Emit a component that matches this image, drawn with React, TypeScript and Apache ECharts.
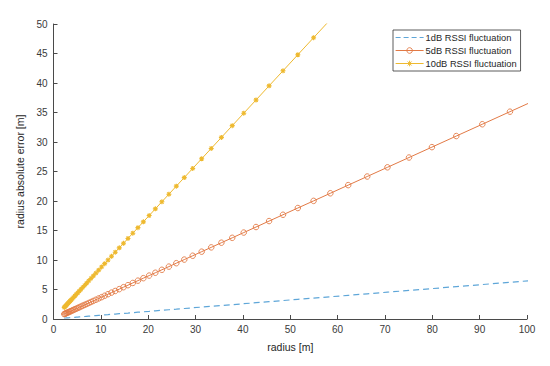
import React, { useEffect, useRef } from "react";
import * as echarts from "echarts";

const radius = [
  2.27, 2.41, 2.57, 2.73, 2.91, 3.1, 3.3, 3.51, 3.74, 3.98, 4.23, 4.51, 4.8, 5.11, 5.44, 5.79,
  6.16, 6.56, 6.98, 7.43, 7.91, 8.42, 8.96, 9.54, 10.16, 10.81, 11.51, 12.25, 13.04, 13.89,
  14.78, 15.73, 16.75, 17.83, 18.98, 20.2, 21.51, 22.89, 24.37, 25.94, 27.62, 29.4, 31.29,
  33.31, 35.46, 37.75, 40.18, 42.77, 45.53, 48.47, 51.6, 54.93, 58.47, 62.24, 66.25, 70.53,
  75.08, 79.92, 85.07, 90.56, 96.4, 102.62,
];

const err1dB = [
  0.15, 0.16, 0.17, 0.18, 0.19, 0.2, 0.21, 0.23, 0.24, 0.26, 0.27, 0.29, 0.31, 0.33, 0.35, 0.37,
  0.4, 0.42, 0.45, 0.48, 0.51, 0.54, 0.58, 0.62, 0.66, 0.7, 0.74, 0.79, 0.84, 0.9, 0.95, 1.01,
  1.08, 1.15, 1.22, 1.3, 1.39, 1.48, 1.57, 1.67, 1.78, 1.9, 2.02, 2.15, 2.29, 2.43, 2.59, 2.76,
  2.94, 3.13, 3.33, 3.54, 3.77, 4.01, 4.27, 4.55, 4.84, 5.15, 5.49, 5.84, 6.22, 6.62,
];

const err5dB = [
  0.83, 0.88, 0.94, 1.0, 1.06, 1.13, 1.2, 1.28, 1.36, 1.45, 1.54, 1.64, 1.75, 1.86, 1.98, 2.11,
  2.25, 2.39, 2.54, 2.71, 2.88, 3.07, 3.27, 3.48, 3.7, 3.94, 4.2, 4.47, 4.75, 5.06, 5.39, 5.73,
  6.11, 6.5, 6.92, 7.36, 7.84, 8.34, 8.88, 9.46, 10.07, 10.72, 11.41, 12.14, 12.93, 13.76,
  14.65, 15.59, 16.6, 17.67, 18.81, 20.02, 21.31, 22.69, 24.15, 25.71, 27.37, 29.13, 31.01,
  33.01, 35.14, 37.4,
];

const err10dB = [
  1.97, 2.09, 2.23, 2.37, 2.53, 2.69, 2.86, 3.05, 3.25, 3.45, 3.67, 3.91, 4.17, 4.44, 4.72,
  5.03, 5.35, 5.69, 6.06, 6.45, 6.87, 7.31, 7.78, 8.28, 8.82, 9.38, 9.99, 10.63, 11.32, 12.06,
  12.83, 13.65, 14.54, 15.48, 16.47, 17.53, 18.67, 19.87, 21.15, 22.52, 23.97, 25.52, 27.16,
  28.91, 30.78, 32.77, 34.88, 37.12, 39.52, 42.07, 44.79, 47.68, 50.75, 54.02,
];

const seriesNames = ["1dB RSSI fluctuation", "5dB RSSI fluctuation", "10dB RSSI fluctuation"];
const xTicks = { min: 0, max: 100, interval: 10 };
const yTicks = { min: 0, max: 50, interval: 5 };

const BLUE = "#5ea6d8";
const ORANGE = "#e27a46";
const YELLOW = "#eeb92f";
const FONT = "Liberation Sans, Arial, sans-serif";
const ASTERISK = "path://M5 0L5 10M0 5L10 5M1.5 1.5L8.5 8.5M8.5 1.5L1.5 8.5";

function pairs(ys: number[]) {
  return ys.map((y, i) => [radius[i], y]);
}

export default function App() {
  const ref = useRef<HTMLDivElement>(null);
  useEffect(() => {
    document.body.style.margin = "0";
    if (!ref.current) return;
    const chart = echarts.init(ref.current, null, { renderer: "svg" });
    const axisColor = "#4a4a4a";
    chart.setOption({
      animation: false,
      backgroundColor: "#ffffff",
      textStyle: { fontFamily: FONT },
      grid: { left: 53.5, right: 23, top: 24, bottom: 47 },
      legend: {
        orient: "vertical",
        left: 393,
        top: 30,
        itemWidth: 28,
        itemHeight: 7,
        itemGap: 4,
        padding: [3, 4, 3, 2],
        borderColor: "#333",
        borderWidth: 0.8,
        backgroundColor: "#fff",
        lineStyle: { width: 1 },
        textStyle: { fontSize: 9.3, color: "#262626", fontFamily: FONT, padding: [0, 0, 0, -3] },
        data: [
          {
            name: seriesNames[0],
            itemStyle: { opacity: 0, color: "rgba(0,0,0,0)", borderWidth: 0 },
            lineStyle: { color: BLUE, width: 1.2, type: [5, 3] },
          },
          { name: seriesNames[1], itemStyle: { borderWidth: 0.9 } },
          { name: seriesNames[2], itemStyle: { borderWidth: 1 } },
        ],
      },
      xAxis: {
        type: "value",
        min: xTicks.min,
        max: xTicks.max,
        interval: xTicks.interval,
        name: "radius [m]",
        nameLocation: "middle",
        nameGap: 22,
        nameTextStyle: { fontSize: 10.5, color: "#262626", fontFamily: FONT },
        axisLine: { show: true, lineStyle: { color: axisColor, width: 1 } },
        axisTick: { show: true, inside: true, length: 4, lineStyle: { color: axisColor } },
        axisLabel: { fontSize: 10, color: "#3a3a3a", margin: 5, fontFamily: FONT },
        splitLine: { show: false },
      },
      yAxis: {
        type: "value",
        min: yTicks.min,
        max: yTicks.max,
        interval: yTicks.interval,
        name: "radius absolute error [m]",
        nameLocation: "middle",
        nameGap: 22,
        nameTextStyle: { fontSize: 10.5, color: "#262626", fontFamily: FONT },
        axisLine: { show: true, lineStyle: { color: axisColor, width: 1 } },
        axisTick: { show: true, inside: true, length: 4, lineStyle: { color: axisColor } },
        axisLabel: { fontSize: 10, color: "#3a3a3a", margin: 6, fontFamily: FONT },
        splitLine: { show: false },
      },
      series: [
        {
          name: seriesNames[0],
          type: "line",
          data: pairs(err1dB),
          showSymbol: false,
          symbol: "none",
          clip: true,
          lineStyle: { color: BLUE, width: 1.2, type: [6, 4] },
          itemStyle: { color: BLUE },
        },
        {
          name: seriesNames[1],
          type: "line",
          data: pairs(err5dB),
          symbol: "circle",
          symbolSize: 5.5,
          clip: true,
          lineStyle: { color: ORANGE, width: 1 },
          itemStyle: { color: "rgba(255,255,255,0)", borderColor: ORANGE, borderWidth: 0.9 },
        },
        {
          name: seriesNames[2],
          type: "line",
          data: pairs(err10dB),
          symbol: ASTERISK,
          symbolSize: 5,
          clip: true,
          lineStyle: { color: YELLOW, width: 1 },
          itemStyle: { color: YELLOW, borderColor: YELLOW, borderWidth: 1.1 },
        },
      ],
    });
    return () => chart.dispose();
  }, []);
  return <div ref={ref} style={{ width: 550, height: 366 }} />;
}
